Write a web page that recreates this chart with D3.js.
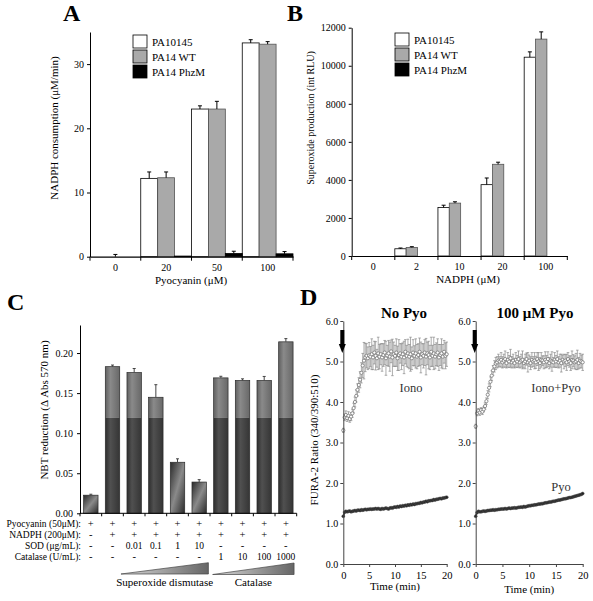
<!DOCTYPE html>
<html><head><meta charset="utf-8">
<script src="https://cdn.jsdelivr.net/npm/d3@7"></script>
<style>
body{margin:0;background:#fff}
svg text{font-family:"Liberation Serif","Times New Roman",serif;}
</style></head><body>
<svg id="fig" width="593" height="601"></svg>
<script>
// ---------------- DATA ----------------
// Panel A
const aCategories = ["0","20","50","100"];
const aSeriesNames = ["PA10145","PA14 WT","PA14 PhzM"];
const aPA10145 = [0, 12.2, 23.0, 33.3];
const aPA10145Err = [0, 1.0, 0.5, 0.5];
const aPA14WT = [0, 12.3, 23.0, 33.1];
const aPA14WTErr = [0.35, 0.9, 1.2, 0.4];
const aPA14PhzM = [0, 0.1, 0.5, 0.45];
const aPA14PhzMErr = [0, 0, 0.35, 0.35];
const aYTicks = [0, 10, 20, 30];

// Panel B
const bCategories = ["0","2","10","20","100"];
const bPA10145 = [0, 380, 2550, 3750, 10450];
const bPA10145Err = [0, 40, 120, 350, 280];
const bPA14WT = [0, 450, 2780, 4820, 11400];
const bPA14WTErr = [0, 40, 70, 110, 380];
const bPA14PhzM = [0, 0, 0, 0, 0];
const bPA14PhzMErr = [0, 0, 0, 0, 0];
const bYTicks = [0, 2000, 4000, 6000, 8000, 10000, 12000];

// Panel C
const cConditions = ["c1","c2","c3","c4","c5","c6","c7","c8","c9","c10"];
const cValues = [0.0226, 0.183, 0.1757, 0.1448, 0.0637, 0.039, 0.169, 0.1658, 0.1658, 0.214];
const cErr = [0.0012, 0.002, 0.005, 0.0157, 0.0043, 0.003, 0.002, 0.002, 0.005, 0.004];
const cPyocyanin = ["+","+","+","+","+","+","+","+","+","+"];
const cNADPH = ["-","+","+","+","+","+","+","+","+","+"];
const cSOD = ["-","-","0.01","0.1","1","10","-","-","-","-"];
const cCatalase = ["-","-","-","-","-","-","1","10","100","1000"];
const cRowLabels = ["Pyocyanin (50\u03BCM):","NADPH (200\u03BCM):","SOD (\u03BCg/mL):","Catalase (U/mL):"];
const cYTicks = [0, 0.05, 0.10, 0.15, 0.20];
const cShadeLevel = 0.119;

// Panel D
const timeMin = [0,0.25,0.5,0.75,1,1.25,1.5,1.75,2,2.25,2.5,2.75,3,3.25,3.5,3.75,4,4.25,4.5,4.75,
 5,5.25,5.5,5.75,6,6.25,6.5,6.75,7,7.25,7.5,7.75,8,8.25,8.5,8.75,9,9.25,9.5,9.75,
 10,10.25,10.5,10.75,11,11.25,11.5,11.75,12,12.25,12.5,12.75,13,13.25,13.5,13.75,14,14.25,14.5,14.75,
 15,15.25,15.5,15.75,16,16.25,16.5,16.75,17,17.25,17.5,17.75,18,18.25,18.5,18.75,19,19.25,19.5,19.75,20];
const ionoNoPyo = [3.30,3.62,3.68,3.60,3.66,3.58,3.64,3.72,3.85,4.00,
 4.15,4.30,4.42,4.55,4.72,4.90,5.02,5.10,5.14,5.08,
 5.15,5.12,5.18,5.10,5.22,5.14,5.08,5.20,5.12,5.18,
 5.10,5.16,5.22,5.08,5.15,5.20,5.12,5.25,5.10,5.18,
 5.14,5.22,5.08,5.16,5.20,5.12,5.18,5.10,5.24,5.14,
 5.20,5.12,5.18,5.08,5.22,5.14,5.20,5.12,5.16,5.24,
 5.10,5.18,5.14,5.22,5.12,5.20,5.16,5.10,5.24,5.14,
 5.20,5.12,5.18,5.22,5.10,5.16,5.20,5.12,5.24,5.14,
 5.18];
const ionoNoPyoErr = [0.05,0.08,0.10,0.08,0.10,0.08,0.10,0.10,0.12,0.12,
 0.15,0.15,0.18,0.20,0.25,0.30,0.45,0.35,0.30,0.28,
 0.32,0.25,0.38,0.30,0.28,0.35,0.22,0.40,0.30,0.26,
 0.34,0.28,0.30,0.42,0.25,0.32,0.36,0.28,0.45,0.30,
 0.26,0.34,0.30,0.38,0.24,0.32,0.28,0.40,0.30,0.26,
 0.35,0.30,0.42,0.28,0.32,0.25,0.36,0.30,0.28,0.34,
 0.38,0.26,0.30,0.32,0.45,0.28,0.34,0.30,0.36,0.26,
 0.40,0.30,0.28,0.34,0.32,0.26,0.36,0.30,0.28,0.32,
 0.30];
const ionoPyo = [3.40,3.72,3.78,3.74,3.80,3.76,3.82,3.90,4.02,4.18,
 4.35,4.50,4.65,4.78,4.88,4.95,4.98,5.02,5.00,5.04,
 4.98,5.02,5.06,4.96,5.04,5.00,5.08,4.98,5.02,4.96,
 5.04,5.00,5.06,4.98,5.02,5.04,4.96,5.00,5.06,4.98,
 5.02,4.96,5.04,5.00,5.02,4.98,5.06,5.00,4.96,5.04,
 5.02,4.98,5.04,5.00,5.06,4.96,5.02,5.00,4.98,5.04,
 5.00,5.06,4.98,5.02,4.96,5.04,5.00,5.02,4.98,5.06,
 5.00,4.96,5.04,5.02,4.98,5.00,5.04,4.96,5.02,5.00,
 4.98];
const ionoPyoErr = [0.05,0.06,0.06,0.07,0.06,0.07,0.06,0.08,0.08,0.10,
 0.10,0.12,0.12,0.12,0.14,0.15,0.14,0.16,0.12,0.18,
 0.14,0.16,0.20,0.12,0.18,0.15,0.22,0.14,0.16,0.12,
 0.18,0.15,0.20,0.14,0.16,0.22,0.12,0.18,0.15,0.24,
 0.14,0.16,0.18,0.12,0.20,0.15,0.16,0.22,0.14,0.18,
 0.12,0.16,0.20,0.15,0.18,0.14,0.16,0.24,0.12,0.18,
 0.15,0.20,0.14,0.16,0.22,0.12,0.18,0.15,0.20,0.16,
 0.14,0.18,0.22,0.15,0.16,0.20,0.24,0.14,0.18,0.16,
 0.20];
const pyoNoPyo = [1.18,1.28,1.30,1.29,1.30,1.31,1.29,1.30,1.31,1.32,
 1.31,1.33,1.33,1.32,1.34,1.33,1.34,1.35,1.34,1.35,
 1.35,1.36,1.35,1.36,1.36,1.37,1.36,1.37,1.36,1.35,
 1.37,1.36,1.37,1.38,1.37,1.36,1.38,1.39,1.38,1.40,
 1.41,1.40,1.42,1.41,1.43,1.42,1.44,1.43,1.45,1.44,
 1.46,1.45,1.47,1.46,1.48,1.47,1.49,1.49,1.50,1.50,
 1.52,1.51,1.53,1.53,1.55,1.54,1.56,1.56,1.57,1.57,
 1.59,1.58,1.60,1.60,1.61,1.62,1.61,1.63,1.63,1.64,
 1.65];
const pyoPyo = [1.18,1.27,1.30,1.29,1.29,1.30,1.31,1.30,1.31,1.32,
 1.32,1.33,1.33,1.34,1.33,1.34,1.34,1.35,1.35,1.36,
 1.36,1.36,1.37,1.36,1.37,1.38,1.37,1.38,1.38,1.39,
 1.38,1.39,1.40,1.40,1.41,1.40,1.42,1.41,1.42,1.43,
 1.44,1.44,1.45,1.45,1.46,1.46,1.47,1.48,1.48,1.49,
 1.49,1.50,1.51,1.51,1.52,1.53,1.53,1.54,1.55,1.55,
 1.56,1.57,1.58,1.58,1.59,1.60,1.61,1.61,1.62,1.63,
 1.64,1.64,1.65,1.66,1.67,1.68,1.69,1.70,1.71,1.72,
 1.74];
const dYTicks = [0,1,2,3,4,5,6];
const dXTicks = [0,5,10,15,20];

// ---------------- DRAW ----------------
const FONT = '"Liberation Serif","Times New Roman",serif';
const svg = d3.select("#fig");
svg.append("rect").attr("width",593).attr("height",601).attr("fill","#fff");
const defs = svg.append("defs");

function fixAxis(sel, color, fs){
  sel.attr("font-family", FONT).attr("font-size", fs);
  sel.selectAll("path,line").attr("stroke", color);
  sel.selectAll("text").attr("fill", "#000");
}
function panelLetter(t, x, y){
  svg.append("text").attr("x",x).attr("y",y).attr("font-size",24).attr("font-weight","bold").text(t);
}
function rotLabel(t, x, y, fs){
  svg.append("text").attr("transform",`translate(${x},${y}) rotate(-90)`)
    .attr("text-anchor","middle").attr("font-size",fs).text(t);
}

const seriesFill = ["#ffffff","#a9a9a9","#000000"];
const seriesStroke = ["#000","#555","#000"];

function drawGrouped(cfg){
  const g = svg.append("g");
  const x0 = d3.scaleBand().domain(cfg.categories).range(cfg.xRange).padding(0);
  const x1 = d3.scaleBand().domain(d3.range(cfg.series.length)).range([0, x0.bandwidth()*cfg.fill]).padding(0);
  const y = d3.scaleLinear().domain(cfg.yDomain).range(cfg.yRange);
  cfg.series.forEach((s, si) => {
    const data = cfg.categories.map((c,i)=>({c, v:s.values[i], e:s.err[i]}));
    g.append("g").selectAll("rect").data(data.filter(d=>d.v>0)).join("rect")
      .attr("x", d=>x0(d.c)+x1(si)).attr("width", x1.bandwidth())
      .attr("y", d=>y(d.v)).attr("height", d=>y(0)-y(d.v))
      .attr("fill", seriesFill[si]).attr("stroke", seriesStroke[si]).attr("stroke-width",0.8);
    const eb = g.append("g").attr("stroke","#000").attr("stroke-width",1);
    data.filter(d=>d.e>0).forEach(d=>{
      const cx = x0(d.c)+x1(si)+x1.bandwidth()/2;
      eb.append("line").attr("x1",cx).attr("x2",cx).attr("y1",y(d.v)).attr("y2",y(d.v+d.e));
      eb.append("line").attr("x1",cx-2).attr("x2",cx+2).attr("y1",y(d.v+d.e)).attr("y2",y(d.v+d.e));
    });
  });
  const ya = g.append("g").attr("transform",`translate(${cfg.xRange[0]},0)`)
    .call(d3.axisLeft(y).tickValues(cfg.yTicks).tickSize(3).tickSizeOuter(0).tickPadding(3).tickFormat(d3.format("d")));
  fixAxis(ya, "#000", 10);
  const xa = g.append("g").attr("transform",`translate(0,${y(0)})`)
    .call(d3.axisBottom(x0).tickSize(0).tickPadding(7));
  fixAxis(xa, "#000", 10);
  xa.select(".domain").attr("stroke-width",1.2);
  const bounds = cfg.categories.map(c=>x0(c)).concat([cfg.xRange[1]]);
  g.append("g").selectAll("line").data(bounds).join("line")
    .attr("x1",d=>d).attr("x2",d=>d).attr("y1",y(0)).attr("y2",y(0)+4).attr("stroke","#000");
  const lg = g.append("g");
  cfg.legendNames.forEach((n,i)=>{
    lg.append("rect").attr("x",cfg.legend[0]).attr("y",cfg.legend[1]+i*15).attr("width",14).attr("height",13)
      .attr("fill",seriesFill[i]).attr("stroke","#000").attr("stroke-width",0.8);
    lg.append("text").attr("x",cfg.legend[0]+19).attr("y",cfg.legend[1]+i*15+11)
      .attr("font-size",11).text(n);
  });
  return {x0,y};
}

// Panel A
panelLetter("A", 63, 21);
drawGrouped({
  categories:aCategories, xRange:[90,293], fill:1,
  yDomain:[0,35], yRange:[256.7,32], yTicks:aYTicks,
  series:[{values:aPA10145,err:aPA10145Err},{values:aPA14WT,err:aPA14WTErr},{values:aPA14PhzM,err:aPA14PhzMErr}],
  legendNames:aSeriesNames, legend:[133,35]
});
rotLabel("NADPH consumption (\u03BCM/min)", 58, 128, 11);
svg.append("text").attr("x",191).attr("y",284).attr("text-anchor","middle").attr("font-size",11).text("Pyocyanin (\u03BCM)");

// Panel B
panelLetter("B", 287, 21);
drawGrouped({
  categories:bCategories, xRange:[351.7,567.3], fill:0.79,
  yDomain:[0,12000], yRange:[256,27.7], yTicks:bYTicks,
  series:[{values:bPA10145,err:bPA10145Err},{values:bPA14WT,err:bPA14WTErr},{values:bPA14PhzM,err:bPA14PhzMErr}],
  legendNames:aSeriesNames, legend:[395,33]
});
rotLabel("Superoxide production (int RLU)", 314, 118, 10);
svg.append("text").attr("x",468).attr("y",283).attr("text-anchor","middle").attr("font-size",11).text("NADPH (\u03BCM)");

// Panel C
panelLetter("C", 7, 310);
{
  const gTop = defs.append("linearGradient").attr("id","gTop").attr("x1",0).attr("x2",1).attr("y1",0).attr("y2",0);
  [["0%","#606060"],["35%","#8a8a8a"],["100%","#686868"]].forEach(s=>gTop.append("stop").attr("offset",s[0]).attr("stop-color",s[1]));
  const gBot = defs.append("linearGradient").attr("id","gBot").attr("x1",0).attr("x2",1).attr("y1",0).attr("y2",0);
  [["0%","#2e2e2e"],["35%","#505050"],["100%","#353535"]].forEach(s=>gBot.append("stop").attr("offset",s[0]).attr("stop-color",s[1]));
  const gShort = defs.append("linearGradient").attr("id","gShort").attr("x1",0).attr("x2",1).attr("y1",0).attr("y2",1);
  [["0%","#2a2a2a"],["50%","#8a8a8a"],["100%","#2a2a2a"]].forEach(s=>gShort.append("stop").attr("offset",s[0]).attr("stop-color",s[1]));
  const gTri = defs.append("linearGradient").attr("id","gTri").attr("x1",0).attr("x2",1).attr("y1",0).attr("y2",0);
  [["0%","#d8d8d8"],["100%","#666"]].forEach(s=>gTri.append("stop").attr("offset",s[0]).attr("stop-color",s[1]));

  const g = svg.append("g");
  const x = d3.scaleBand().domain(cConditions).range([80,296.7]).paddingInner(0.335).paddingOuter(0.1675);
  const y = d3.scaleLinear().domain([0,0.235]).range([513.3,325]);
  const data = cConditions.map((c,i)=>({c, v:cValues[i], e:cErr[i]}));
  data.forEach(d=>{
    const bx = x(d.c), bw = x.bandwidth();
    if (d.v > cShadeLevel){
      g.append("rect").attr("x",bx).attr("width",bw).attr("y",y(d.v)).attr("height",y(cShadeLevel)-y(d.v)).attr("fill","url(#gTop)");
      g.append("rect").attr("x",bx).attr("width",bw).attr("y",y(cShadeLevel)).attr("height",y(0)-y(cShadeLevel)).attr("fill","url(#gBot)");
    } else {
      g.append("rect").attr("x",bx).attr("width",bw).attr("y",y(d.v)).attr("height",y(0)-y(d.v)).attr("fill","url(#gShort)");
    }
    g.append("rect").attr("x",bx).attr("width",bw).attr("y",y(d.v)).attr("height",y(0)-y(d.v))
      .attr("fill","none").attr("stroke","#2a2a2a").attr("stroke-width",0.7);
    const cx = bx+bw/2;
    g.append("line").attr("x1",cx).attr("x2",cx).attr("y1",y(d.v)).attr("y2",y(d.v+d.e)).attr("stroke","#444");
    g.append("line").attr("x1",cx-1.5).attr("x2",cx+1.5).attr("y1",y(d.v+d.e)).attr("y2",y(d.v+d.e)).attr("stroke","#444");
  });
  const ya = g.append("g").attr("transform","translate(80,0)")
    .call(d3.axisLeft(y).tickValues(cYTicks).tickSize(3).tickSizeOuter(0).tickPadding(4).tickFormat(d3.format(".2f")));
  fixAxis(ya,"#000",10);
  g.append("line").attr("x1",80).attr("x2",296.7).attr("y1",y(0)).attr("y2",y(0)).attr("stroke","#000");
  const step = x.step();
  const bounds = cConditions.map(c=>x(c)-step*0.335/2).concat([296.7]);
  g.selectAll("line.bt").data(bounds).join("line").attr("class","bt")
    .attr("x1",d=>d).attr("x2",d=>d).attr("y1",y(0)).attr("y2",y(0)+3).attr("stroke","#000");
  const rows = [cPyocyanin, cNADPH, cSOD, cCatalase];
  const baselines = [526.5, 537.5, 548.5, 559.5];
  rows.forEach((r,ri)=>{
    g.append("text").attr("x",81).attr("y",baselines[ri]).attr("text-anchor","end").attr("font-size",9.5).text(cRowLabels[ri]);
    r.forEach((v,i)=>{
      g.append("text").attr("x",x(cConditions[i])+x.bandwidth()/2).attr("y",baselines[ri])
        .attr("text-anchor","middle").attr("font-size",v.length>1?9.5:10.5).text(v);
    });
  });
  const sodL = x(cConditions[2]) - 6, sodR = x(cConditions[5]) + x.bandwidth() + 2;
  const catL = x(cConditions[6]) - 1, catR = x(cConditions[9]) + x.bandwidth() + 1;
  g.append("polygon").attr("points",`${sodL},574 ${sodR},562.7 ${sodR},574`).attr("fill","url(#gTri)").attr("stroke","#444").attr("stroke-width",0.7);
  g.append("polygon").attr("points",`${catL},574.5 ${catR},563 ${catR},574.5`).attr("fill","url(#gTri)").attr("stroke","#444").attr("stroke-width",0.7);
  g.append("text").attr("x",(sodL+sodR)/2).attr("y",586).attr("text-anchor","middle").attr("font-size",11).text("Superoxide dismutase");
  g.append("text").attr("x",(catL+catR)/2).attr("y",586).attr("text-anchor","middle").attr("font-size",11).text("Catalase");
}
rotLabel("NBT reduction (\u0394 Abs 570 nm)", 48, 410, 11);

// Panel D
panelLetter("D", 300, 305);
const yD = d3.scaleLinear().domain([0,6]).range([564,321]);
function drawD(cfg){
  const g = svg.append("g");
  const x = d3.scaleLinear().domain([0,20]).range(cfg.xRange);
  const iono = timeMin.map((t,i)=>({t, v:cfg.iono[i], e:cfg.ionoErr[i]}));
  const pyo = timeMin.map((t,i)=>({t, v:cfg.pyo[i]}));
  const eg = g.append("g").attr("stroke","#8a8a8a").attr("stroke-width",0.7);
  iono.forEach(d=>{
    const cx = x(d.t);
    eg.append("line").attr("x1",cx).attr("x2",cx).attr("y1",yD(d.v-d.e)).attr("y2",yD(d.v+d.e));
    eg.append("line").attr("x1",cx-1.3).attr("x2",cx+1.3).attr("y1",yD(d.v-d.e)).attr("y2",yD(d.v-d.e));
    eg.append("line").attr("x1",cx-1.3).attr("x2",cx+1.3).attr("y1",yD(d.v+d.e)).attr("y2",yD(d.v+d.e));
  });
  g.append("g").selectAll("circle").data(iono).join("circle")
    .attr("cx",d=>x(d.t)).attr("cy",d=>yD(d.v)).attr("r",1.6)
    .attr("fill","#fff").attr("stroke","#777").attr("stroke-width",0.8);
  g.append("path").datum(pyo).attr("fill","none").attr("stroke","#111").attr("stroke-width",1.6)
    .attr("d", d3.line().x(d=>x(d.t)).y(d=>yD(d.v)));
  g.append("g").selectAll("circle").data(pyo).join("circle")
    .attr("cx",d=>x(d.t)).attr("cy",d=>yD(d.v)).attr("r",1.5)
    .attr("fill","#222").attr("stroke","#555").attr("stroke-width",0.5);
  const ya = g.append("g").attr("transform",`translate(${cfg.xRange[0]},0)`)
    .call(d3.axisLeft(yD).tickValues(dYTicks).tickSize(3).tickSizeOuter(0).tickPadding(2));
  fixAxis(ya,"#444",10);
  const xa = g.append("g").attr("transform",`translate(0,${yD(0)})`)
    .call(d3.axisBottom(x).tickValues(dXTicks).tickSize(3).tickSizeOuter(0).tickPadding(5));
  fixAxis(xa,"#444",10.5);
  const ax = x(0) - 1;
  g.append("rect").attr("x",ax-2).attr("y",330).attr("width",4).attr("height",15).attr("fill","#000");
  g.append("polygon").attr("points",`${ax-3.5},344 ${ax+3.5},344 ${ax},353`).attr("fill","#000");
  g.append("text").attr("x",cfg.titleX).attr("y",318).attr("text-anchor","middle")
    .attr("font-size",15).attr("font-weight","bold").text(cfg.title);
  g.append("text").attr("x",(cfg.xRange[0]+cfg.xRange[1])/2).attr("y",cfg.xlabY).attr("text-anchor","middle")
    .attr("font-size",11).text("Time (min)");
  g.append("text").attr("x",cfg.ionoLabelX).attr("y",392).attr("text-anchor","middle")
    .attr("font-size",12.5).attr("fill","#333").text(cfg.ionoLabel);
  if (cfg.pyoLabel) g.append("text").attr("x",cfg.pyoLabelX).attr("y",491).attr("text-anchor","middle")
    .attr("font-size",12.5).attr("fill","#333").text(cfg.pyoLabel);
}
drawD({xRange:[343.3,446.7], iono:ionoNoPyo, ionoErr:ionoNoPyoErr, pyo:pyoNoPyo,
  title:"No Pyo", titleX:404, xlabY:590, ionoLabel:"Iono", ionoLabelX:411});
drawD({xRange:[475.7,582.7], iono:ionoPyo, ionoErr:ionoPyoErr, pyo:pyoPyo,
  title:"100 \u03BCM Pyo", titleX:535, xlabY:593, ionoLabel:"Iono+Pyo", ionoLabelX:556,
  pyoLabel:"Pyo", pyoLabelX:561});
rotLabel("FURA-2 Ratio (340/390:510)", 318, 440, 11);
</script></body></html>
